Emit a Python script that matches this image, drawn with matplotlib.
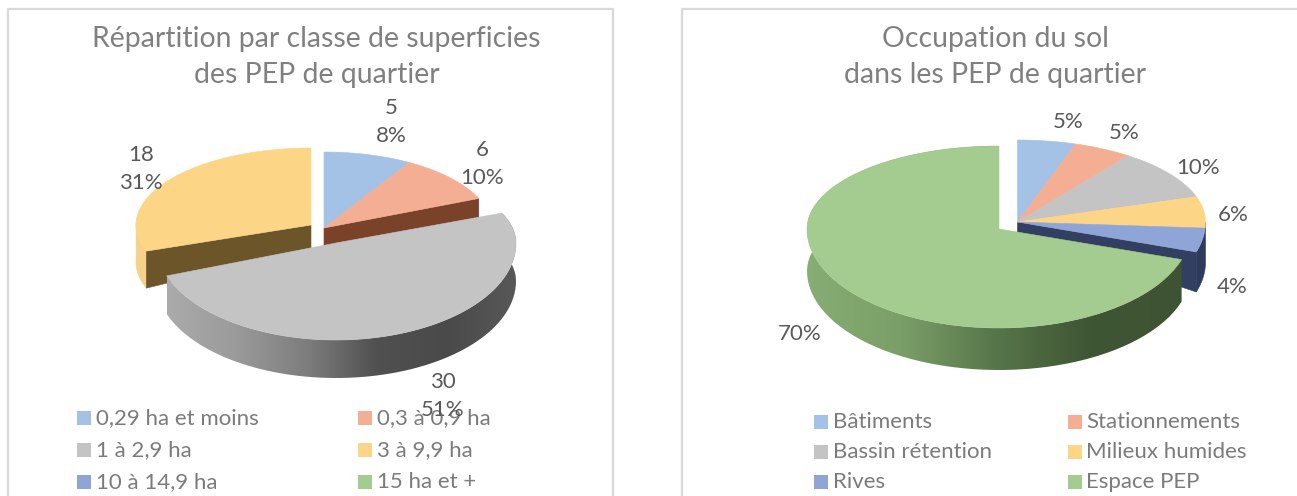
import numpy as np
import matplotlib
matplotlib.use("Agg")
import matplotlib.pyplot as plt
from matplotlib.patches import Polygon, Rectangle
from matplotlib.colors import LinearSegmentedColormap

plt.rcParams['font.family'] = ['Lato', 'DejaVu Sans']

TITLE_GREY = "#808080"
LABEL_GREY = "#595959"
LEGEND_GREY = "#7b7b7b"

colors = ["#a3c2e6", "#f4ae93", "#c4c4c4", "#fcd587", "#8fa5d8", "#a4cb90"]

left_title = "Répartition par classe de superficies\ndes PEP de quartier"
left_classes = ["0,29 ha et moins", "0,3 à 0,9 ha", "1 à 2,9 ha", "3 à 9,9 ha",
                "10 à 14,9 ha", "15 ha et +"]
left_counts = [5, 6, 30, 18, 0, 0]

right_title = "Occupation du sol\ndans les PEP de quartier"
right_classes = ["Bâtiments", "Stationnements", "Bassin rétention",
                 "Milieux humides", "Rives", "Espace PEP"]
right_pcts = [5, 5, 10, 6, 4, 70]


def arc(cx, cy, rx, ry_up, ry_down, a0, a1, n=80):
    # angles in degrees, clockwise from 12 o'clock
    t = np.radians(np.linspace(a0, a1, n))
    x = cx + rx * np.sin(t)
    c = np.cos(t)
    y = cy - np.where(c > 0, ry_up, ry_down) * c
    return x, y


def spans(values):
    edges = 360 * np.cumsum([0] + list(values)) / sum(values)
    return list(zip(edges[:-1], edges[1:]))


def top_face(ax, span, geom, color, z):
    x, y = arc(*geom, *span)
    pts = np.column_stack([np.r_[geom[0], x], np.r_[geom[1], y]])
    ax.add_patch(Polygon(pts, closed=True, fc=color, ec=color, lw=0.4, zorder=z))


def rim(ax, span, geom, depth, z, color=None, shades=None):
    x, y = arc(*geom, *span)
    pts = np.column_stack([np.r_[x, x[::-1]], np.r_[y, y[::-1] + depth]])
    if color is not None:
        ax.add_patch(Polygon(pts, closed=True, fc=color, ec=color, lw=0.4, zorder=z))
        return
    # gradient side, left to right
    cmap = LinearSegmentedColormap.from_list("side", shades)
    im = ax.imshow(np.linspace(0, 1, 256)[None, :], cmap=cmap, aspect="auto", zorder=z,
                   extent=[x.min(), x.max(), y.max() + depth, y.min()])
    im.set_clip_path(Polygon(pts, closed=True, transform=ax.transData))


def cut_face(ax, p0, p1, d0, d1, color, z):
    pts = [p0, p1, (p1[0], p1[1] + d1), (p0[0], p0[1] + d0)]
    ax.add_patch(Polygon(pts, closed=True, fc=color, ec=color, lw=0.4, zorder=z))


def labels(ax, items, color=LABEL_GREY):
    for x, y, s in items:
        ax.text(x, y + 2, s, ha="center", va="center", fontsize=16, color=color,
                linespacing=1.5, zorder=20)


def legend(ax, names, x0, x1, ys):
    for i, name in enumerate(names):
        x = x0 if i % 2 == 0 else x1
        y = ys[i // 2]
        ax.add_patch(Rectangle((x, y - 7), 14, 14, fc=colors[i], ec="none", zorder=10))
        ax.text(x + 19, y, name, ha="left", va="center", fontsize=16,
                color=LEGEND_GREY, zorder=10)


def frame(ax, x0, x1):
    ax.plot([x0, x0, x1, x1], [496, 9, 9, 496], color="#d9d9d9", lw=1.6, zorder=1)


fig = plt.figure(figsize=(12.97, 4.96), dpi=100)
ax = fig.add_axes([0, 0, 1, 1])

frame(ax, 8, 613)
frame(ax, 682, 1305)

ax.text(316.5, 57, left_title, ha="center", va="center", fontsize=20.4, color=TITLE_GREY,
        linespacing=1.43, zorder=10)
ax.text(995, 57, right_title, ha="center", va="center", fontsize=20.4, color=TITLE_GREY,
        linespacing=1.43, zorder=10)

# left pie
s = spans(left_counts)
g_back = (324, 228, 168, 76, 77)
g_yel = (311, 225, 175, 77, 77)
g_gray = (336, 243, 180, 77, 97)

x_end, y_end = arc(*g_back, *s[1], n=2)
cut_face(ax, (324, 228), (x_end[1], y_end[1]), 19, 19, "#7a4329", 3)
x_yel, y_yel = arc(*g_yel, *s[3], n=2)
rim(ax, (s[3][0], 272), g_yel, 37, 2, color="#f6d189")
cut_face(ax, (311, 225), (x_yel[0], y_yel[0]), 23, 37, "#6c5528", 3)
top_face(ax, s[0], g_back, colors[0], 4)
top_face(ax, s[1], g_back, colors[1], 4)
top_face(ax, s[3], g_yel, colors[3], 4)
rim(ax, s[2], g_gray, 38, 5,
    shades=["#ababab", "#9a9a9a", "#7d7d7d", "#505050", "#4a4a4a", "#585858"])
top_face(ax, s[2], g_gray, colors[2], 6)

total = sum(left_counts)
left_labels = [(391, 120, f"{left_counts[0]}\n{round(100 * left_counts[0] / total)}%"),
               (482, 162, f"{left_counts[1]}\n{round(100 * left_counts[1] / total)}%"),
               (443, 394, f"{left_counts[2]}\n{round(100 * left_counts[2] / total)}%"),
               (141, 167, f"{left_counts[3]}\n{round(100 * left_counts[3] / total)}%")]
labels(ax, left_labels)
legend(ax, left_classes, 77, 358, [418, 450, 482])

# right pie
s = spans(right_pcts)
g_small = (1017.5, 222, 188, 82, 97)
g_green = (999, 229, 192, 83, 99)

x_end, y_end = arc(*g_small, *s[4], n=2)
rim(ax, (90, s[4][1]), g_small, 40, 2, color="#2f3b5c")
cut_face(ax, (1017.5, 222), (x_end[1], y_end[1]), 10, 40, "#333f60", 3)
for i in range(5):
    top_face(ax, s[i], g_small, colors[i], 4)
rim(ax, s[5], g_green, 42, 5, shades=["#86ad73", "#7a9f68", "#57764a", "#3f5634", "#3e5333"])
top_face(ax, s[5], g_green, colors[5], 6)

right_labels = [(1068, 120, right_pcts[0]), (1124, 131, right_pcts[1]), (1198, 166, right_pcts[2]),
                (1233, 213, right_pcts[3]), (1232, 285, right_pcts[4]), (800, 332, right_pcts[5])]
labels(ax, [(x, y, f"{v}%") for x, y, v in right_labels])
legend(ax, right_classes, 814, 1067.5, [422, 452, 482])

ax.set_xlim(0, 1297)
ax.set_ylim(496, 0)
ax.axis("off")
fig.savefig("out.png", dpi=100)
